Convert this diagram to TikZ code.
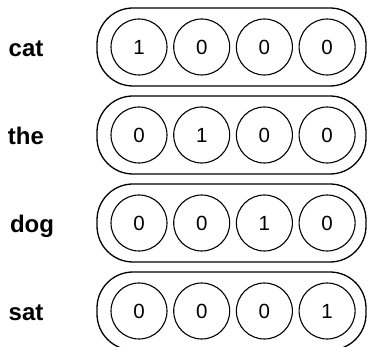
\documentclass[tikz,border=0pt]{standalone}
\usepackage{fontspec}
\setmainfont{Liberation Sans}
\usetikzlibrary{positioning}

\begin{document}
\begin{tikzpicture}[
        x=1pt, y=-1pt,
        vec/.style={draw, rectangle, rounded corners=36pt, line width=1.3pt, minimum width=269pt, minimum height=78pt},
        bit/.style={draw, circle, line width=1.1pt, minimum size=56pt, inner sep=0pt, font=\fontsize{20.5}{20.5}\selectfont},
        word/.style={anchor=base, inner sep=0pt, font=\bfseries\fontsize{24}{24}\selectfont}
    ]
        \useasboundingbox (0,0) rectangle (367,347);

        % one row per word: the 1 sits at position \k
        \foreach \w/\k/\lx [count=\i] in {cat/1/26, the/2/26, dog/3/32, sat/4/26} {
            \node[vec] (vec\i) at (231.5, {47+88*(\i-1)}) {};
            \foreach \j in {1,...,4} {
                \pgfmathtruncatemacro{\val}{\j==\k}
                \node[bit] (bit\i\j) at ({139+62.7*(\j-1)}, {47+88*(\i-1)}) {\val};
            }
            \node[word] (word\i) at (\lx, {57+88*(\i-1)}) {\w};
        }
    \end{tikzpicture}
\end{document}
